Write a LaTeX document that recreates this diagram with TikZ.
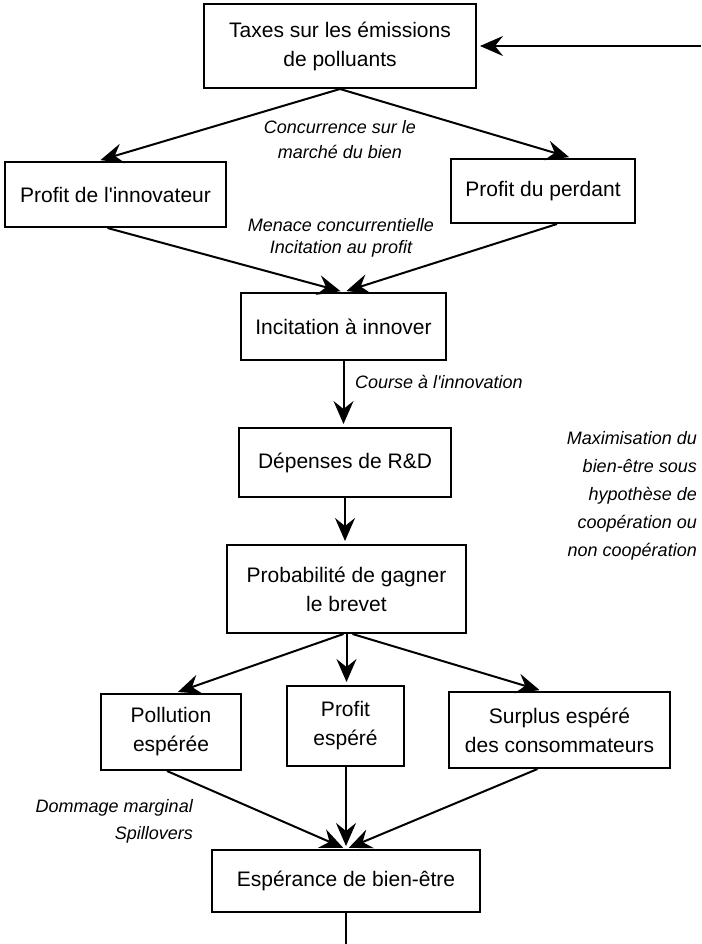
\documentclass[tikz,border=0pt]{standalone}
\usepackage{fontspec}
\setmainfont{Liberation Sans}
\usetikzlibrary{arrows.meta}
\begin{document}
\begin{tikzpicture}[x=1pt,y=-1pt,
  box/.style={draw, line width=2pt, rectangle, align=center, inner sep=0pt,
    font=\fontsize{21}{29}\selectfont},
  arr/.style={line width=2pt, shorten >=3pt, -{Stealth[length=23pt,width=20pt,inset=8pt]}},
  ln/.style={line width=2pt},
  lbl/.style={inner sep=0pt, font=\fontsize{18}{24}\selectfont\itshape}]
\useasboundingbox (0,0) rectangle (701,944);

% boxes
\node[box, minimum width=272pt, minimum height=84pt] (tax) at (340,46) {Taxes sur les émissions\\de polluants};
\node[box, minimum width=221pt, minimum height=65pt] (inn) at (115.5,194.5) {Profit de l\textquotesingle innovateur};
\node[box, minimum width=184pt, minimum height=64pt] (perd) at (543,191) {Profit du perdant};
\node[box, minimum width=205pt, minimum height=67pt] (inc) at (343.5,326.5) {Incitation à innover};
\node[box, minimum width=212pt, minimum height=69pt] (dep) at (345,462.5) {Dépenses de R\&D};
\node[box, minimum width=239pt, minimum height=88pt] (prob) at (346.5,589) {Probabilité de gagner\\le brevet};
\node[box, minimum width=140pt, minimum height=76pt] (poll) at (171,732) {Pollution\\espérée};
\node[box, minimum width=117pt, minimum height=80pt] (pesp) at (345.5,726) {Profit\\espéré};
\node[box, minimum width=221pt, minimum height=76pt] (surp) at (559.5,730) {Surplus espéré\\des consommateurs};
\node[box, minimum width=268pt, minimum height=62pt] (esp) at (346,881) {Espérance de bien-être};

% loose ends of the feedback loop
\coordinate (fbin) at (701,46);
\coordinate (fbout) at (346,944);

% connectors
\draw[arr] (fbin) -- (tax.east);
\draw[arr] (tax.south) -- ([xshift=-18pt]inn.north);
\draw[arr] (tax.south) -- ([xshift=29pt]perd.north);
\draw[arr] ([xshift=-8pt]inn.south) -- (inc.north);
\draw[arr] ([xshift=14pt]perd.south) -- (inc.north);
\draw[arr] (inc.south) -- (inc.south |- dep.north);
\draw[arr] (dep.south) -- (dep.south |- prob.north);
\draw[arr] ([xshift=-3pt]prob.south) -- ([xshift=4pt]poll.north);
\draw[arr] (prob.south) -- (prob.south |- pesp.north);
\draw[arr] ([xshift=6pt]prob.south) -- ([xshift=-17pt]surp.north);
\draw[arr] ([xshift=-4pt]poll.south) -- (esp.north);
\draw[arr] (pesp.south -| esp.north) -- (esp.north);
\draw[arr] ([xshift=-22pt]surp.south) -- (esp.north);
\draw[ln] (esp.south) -- (fbout);

% labels
\node[lbl, align=center, font=\fontsize{18}{25}\selectfont\itshape] (l1) at (340,139.5) {Concurrence sur le\\marché du bien};
\node[lbl, align=center, font=\fontsize{18}{22}\selectfont\itshape] (l2) at (341,237.5) {Menace concurrentielle\\Incitation au profit};
\node[lbl, anchor=west] (l3) at (355,382) {Course à l\textquotesingle innovation};
\node[lbl, align=right, anchor=east, font=\fontsize{18}{28}\selectfont\itshape] (l4) at (697,496) {Maximisation du\\bien-être sous\\hypothèse de\\coopération ou\\non coopération};
\node[lbl, align=right, anchor=east, font=\fontsize{18}{27}\selectfont\itshape] (l5) at (193,821.5) {Dommage marginal\\Spillovers};
\end{tikzpicture}
\end{document}
